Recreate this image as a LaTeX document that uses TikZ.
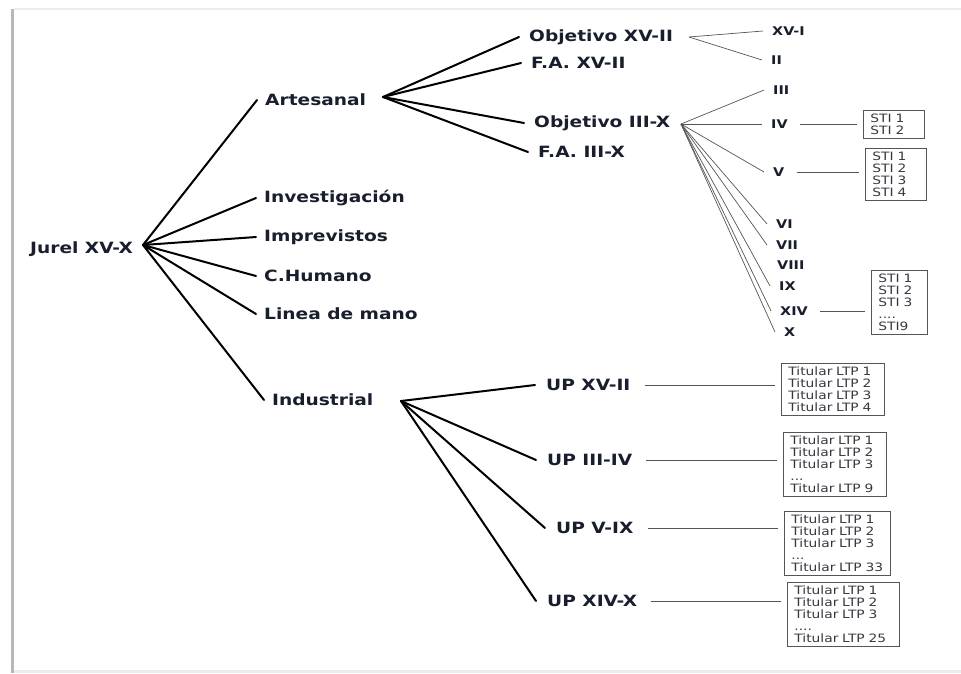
\documentclass[tikz,border=0pt]{standalone}
\usepackage{fontspec}
\newfontfamily\diagramFont{DejaVu Sans}[FakeStretch=1.2]
\usepackage{tikz}

\definecolor{labelInk}{RGB}{25,30,45}
\definecolor{listInk}{RGB}{55,55,65}
\definecolor{thinInk}{RGB}{85,85,85}

\tikzset{
  rootLabel/.style = {anchor=west, inner sep=0pt, text=labelInk, font=\diagramFont\fontsize{15.5}{18}\selectfont\bfseries},
  mainLabel/.style = {rootLabel, inner xsep=8pt, inner ysep=2pt},
  goalLabel/.style = {rootLabel, inner xsep=10pt, inner ysep=2pt},
  unitLabel/.style = {rootLabel, inner xsep=11pt, inner ysep=2pt},
  regionLabel/.style = {anchor=west, inner xsep=9pt, inner ysep=1pt, text=labelInk, font=\diagramFont\fontsize{12}{14}\selectfont\bfseries},
  listBox/.style = {draw=thinInk, line width=0.9pt, anchor=north west, align=left, inner xsep=7pt, inner ysep=3.5pt, text=listInk, font=\diagramFont\fontsize{11.5}{12}\selectfont},
  thickBranch/.style = {line width=2pt, line cap=round, black},
  thinBranch/.style = {line width=0.7pt, thinInk},
  toList/.style = {line width=0.8pt, thinInk, shorten <=3pt, shorten >=6pt}
}

\begin{document}
\begin{tikzpicture}[x=1pt, y=-1pt]
  \useasboundingbox (0,0) rectangle (961,673);

  % page edge
  \fill [black!28] (11,9) rectangle (14,673);
  \fill [black!7] (14,7.5) rectangle (961,9.5);
  \fill [black!8] (14,670) rectangle (961,673);

  \def\xFirst{256};
  \def\xRegion{763};

  % first level
  \node [rootLabel] (jurel) at (30,249) {Jurel XV-X};
  \coordinate (jurelHub) at (143,245);

  \node [mainLabel] (artesanal) at (257,100) {Artesanal};
  \node [mainLabel] (investigacion) at (\xFirst,198) {Investigación};
  \node [mainLabel] (imprevistos) at (\xFirst,237) {Imprevistos};
  \node [mainLabel] (cHumano) at (\xFirst,276) {C.Humano};
  \node [mainLabel] (lineaMano) at (\xFirst,314) {Linea de mano};
  \node [mainLabel] (industrial) at (264,400) {Industrial};

  \begin{scope}[thickBranch]
    \foreach \target in {artesanal, investigacion, imprevistos, cHumano, lineaMano, industrial}
      \draw (jurelHub) -- (\target.west);
  \end{scope}

  % artesanal
  \coordinate (artesanalHub) at (383,97);
  \node [goalLabel] (objetivoA) at (519,37) {Objetivo XV-II};
  \node [goalLabel] (faA) at (521,63) {F.A. XV-II};
  \node [goalLabel] (objetivoB) at (524,123) {Objetivo III-X};
  \node [goalLabel] (faB) at (528,152) {F.A. III-X};

  \begin{scope}[thickBranch]
    \foreach \target in {objetivoA, faA, objetivoB, faB}
      \draw (artesanalHub) -- (\target.west);
  \end{scope}

  \coordinate (objetivoAHub) at (689,37);
  \node [regionLabel] (regXVI) at (\xRegion,31) {XV-I};
  \node [regionLabel] (regII) at (762,60) {II};

  \coordinate (objetivoBHub) at (681,124);
  \node [regionLabel] (regIII) at (764,90) {III};
  \node [regionLabel] (regIV) at (762,124) {IV};
  \node [regionLabel] (regV) at (764,172) {V};
  \node [regionLabel] (regVI) at (767,224) {VI};
  \node [regionLabel] (regVII) at (767,245) {VII};
  \node [regionLabel] (regVIII) at (768,265) {VIII};
  \node [regionLabel] (regIX) at (770,286) {IX};
  \node [regionLabel] (regXIV) at (771,311) {XIV};
  \node [regionLabel] (regX) at (775,332) {X};

  \begin{scope}[thinBranch]
    \draw (objetivoAHub) -- (regXVI.west);
    \draw (objetivoAHub) -- (regII.west);
    \foreach \target in {regIII, regIV, regV, regVI, regVII, regIX, regXIV, regX}
      \draw (objetivoBHub) -- (\target.west);
  \end{scope}

  \node [listBox, text width=47pt] (stiIV) at (863,110) {STI 1\\STI 2};
  \node [listBox, text width=47pt] (stiV) at (865,148) {STI 1\\STI 2\\STI 3\\STI 4};
  \node [listBox, text width=42pt] (stiXIV) at (871,270) {STI 1\\STI 2\\STI 3\\....\\STI9};

  \draw [toList] (regIV.east) -- (regIV.east -| stiIV.west);
  \draw [toList] (regV.east) -- (regV.east -| stiV.west);
  \draw [toList] (regXIV.east) -- (regXIV.east -| stiXIV.west);

  % industrial
  \coordinate (industrialHub) at (401,401);
  \node [unitLabel] (upA) at (535,385) {UP XV-II};
  \node [unitLabel] (upB) at (536,460) {UP III-IV};
  \node [unitLabel] (upC) at (545,528) {UP V-IX};
  \node [unitLabel] (upD) at (536,601) {UP XIV-X};

  \begin{scope}[thickBranch]
    \foreach \target in {upA, upB, upC, upD}
      \draw (industrialHub) -- (\target.west);
  \end{scope}

  \node [listBox, text width=89pt] (ltpA) at (781,363) {Titular LTP 1\\Titular LTP 2\\Titular LTP 3\\Titular LTP 4};
  \node [listBox, text width=89pt] (ltpB) at (783,432) {Titular LTP 1\\Titular LTP 2\\Titular LTP 3\\...\\Titular LTP 9};
  \node [listBox, text width=92pt] (ltpC) at (784,511) {Titular LTP 1\\Titular LTP 2\\Titular LTP 3\\...\\Titular LTP 33};
  \node [listBox, text width=98pt] (ltpD) at (787,582) {Titular LTP 1\\Titular LTP 2\\Titular LTP 3\\....\\Titular LTP 25};

  \draw [toList] (upA.east) -- (upA.east -| ltpA.west);
  \draw [toList] (upB.east) -- (upB.east -| ltpB.west);
  \draw [toList] (upC.east) -- (upC.east -| ltpC.west);
  \draw [toList] (upD.east) -- (upD.east -| ltpD.west);

\end{tikzpicture}
\end{document}
